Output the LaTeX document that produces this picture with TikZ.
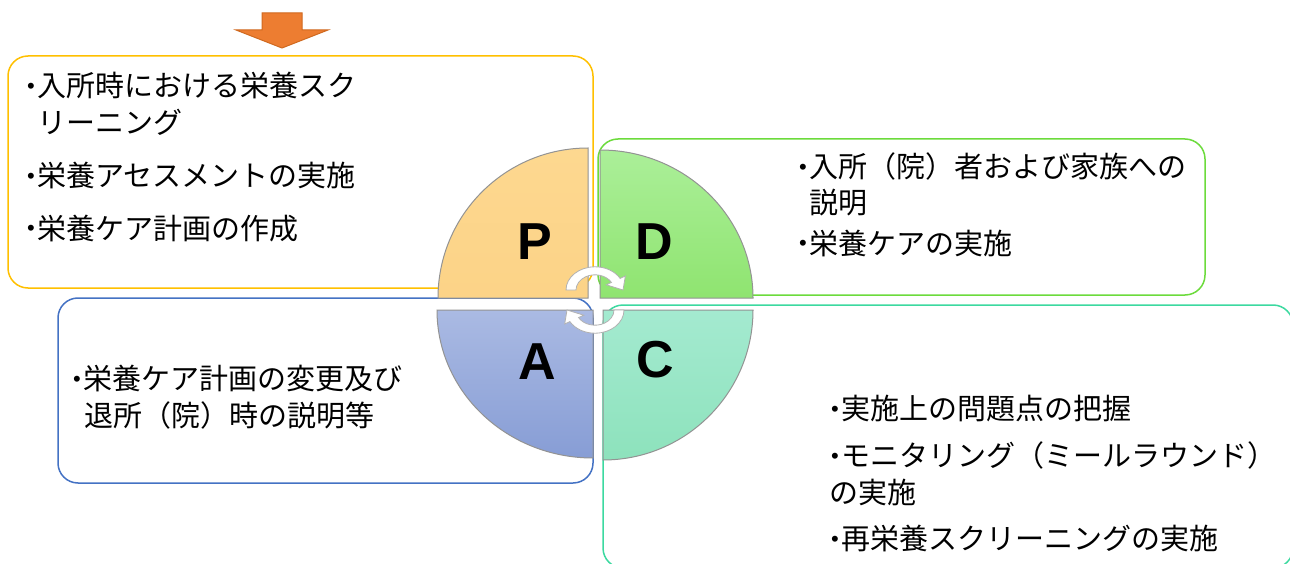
\documentclass[tikz,border=0pt]{standalone}
\usepackage{fontspec}
\setmainfont{Liberation Sans}
\newfontfamily\jpfont{Noto Sans CJK JP}
\newcommand\mybul{{\rmfamily\fontsize{22}{22}\selectfont\raisebox{3pt}{•}\hspace{2.5pt}}}
\definecolor{pline}{HTML}{FFC000}
\definecolor{dline}{HTML}{6CDB3C}
\definecolor{aline}{HTML}{4472C4}
\definecolor{cline}{HTML}{3CD9A0}
\definecolor{arrfill}{HTML}{ED7D31}
\definecolor{arrdraw}{HTML}{D0691F}
\definecolor{ptop}{HTML}{FDD890}
\definecolor{pbot}{HTML}{FCD387}
\definecolor{dtop}{HTML}{ABEF99}
\definecolor{dbot}{HTML}{8FE470}
\definecolor{atop}{HTML}{AABAE3}
\definecolor{abot}{HTML}{879DD5}
\definecolor{ctop}{HTML}{A4EAD0}
\definecolor{cbot}{HTML}{8DE2BC}
\begin{document}
\begin{tikzpicture}[x=1pt,y=1pt,
  box/.style={rounded corners=20pt, line width=1.5pt},
  quad/.style={draw=gray!85, line width=1pt},
  jp/.style={font=\jpfont\fontsize{29}{29}\selectfont, anchor=base west, inner sep=0pt},
  letter/.style={font=\fontsize{52}{52}\selectfont\bfseries, inner sep=0pt},
  cyc/.style={fill=white, draw=gray!60, line width=0.8pt}]
\useasboundingbox (0,0) rectangle (1290,-564);
\clip (0,0) rectangle (1290,-564);
\fill[white] (0,0) rectangle (1290,-564);
% boxes
\draw[box, draw=pline] (8,-56) rectangle (593,-288);
\draw[box, draw=dline] (598,-139) rectangle (1205,-295);
\draw[box, draw=aline] (58,-298) rectangle (593,-483);
\draw[box, draw=cline] (603,-305) rectangle (1293,-568);
% orange arrow
\draw[fill=arrfill, draw=arrdraw, line width=1pt] (262,-13) -- (302,-13) -- (302,-30) -- (328,-30) -- (282,-48) -- (236,-30) -- (262,-30) -- cycle;
% quadrants
\path[quad, top color=ptop, bottom color=pbot] (588,-298) -- (438,-298) arc[start angle=180, end angle=90, radius=150] -- cycle;
\path[quad, top color=dtop, bottom color=dbot] (600,-298) -- (600,-150) arc[start angle=90, end angle=0, x radius=153, y radius=148] -- cycle;
\path[quad, top color=atop, bottom color=abot] (593,-310) -- (437,-310) arc[start angle=180, end angle=270, x radius=156, y radius=148] -- cycle;
\path[quad, top color=ctop, bottom color=cbot] (603,-310) -- (603,-460) arc[start angle=270, end angle=360, radius=150] -- cycle;
% cycle arrows
\begin{scope}[shift={(595,-290)}, yscale=0.8]
\draw[cyc] (180:29) arc[start angle=180, end angle=30, radius=29] -- (30:35) -- (0:28) -- (30:13) -- (30:19) arc[start angle=30, end angle=180, radius=19] -- cycle;
\end{scope}
\begin{scope}[shift={(595,-310)}, yscale=0.8]
\draw[cyc] (0:29) arc[start angle=0, end angle=-150, radius=29] -- (210:35) -- (180:28) -- (210:13) -- (210:19) arc[start angle=-150, end angle=0, radius=19] -- cycle;
\end{scope}
% letters
\node[letter] (lP) at (535,-242) {P};
\node[letter] (lD) at (654,-242) {D};
\node[letter] (lA) at (537,-362) {A};
\node[letter] (lC) at (655,-360) {C};
% texts
\node[jp] (p1) at (27,-97) {\mybul 入所時における栄養スク};
\node[jp] (p2) at (37.5,-134) {リーニング};
\node[jp] (p3) at (27,-187) {\mybul 栄養アセスメントの実施};
\node[jp] (p4) at (27,-239) {\mybul 栄養ケア計画の作成};
\node[jp] (d1) at (799,-178) {\mybul 入所（院）者および家族への};
\node[jp] (d2) at (809,-214) {説明};
\node[jp] (d3) at (799,-254) {\mybul 栄養ケアの実施};
\node[jp] (a1) at (73,-389) {\mybul 栄養ケア計画の変更及び};
\node[jp] (a2) at (84,-426) {退所（院）時の説明等};
\node[jp] (c1) at (831,-419) {\mybul 実施上の問題点の把握};
\node[jp] (c2) at (831,-466) {\mybul モニタリング（ミールラウンド）};
\node[jp] (c3) at (829,-503) {の実施};
\node[jp] (c4) at (831,-549) {\mybul 再栄養スクリーニングの実施};
\end{tikzpicture}
\end{document}
